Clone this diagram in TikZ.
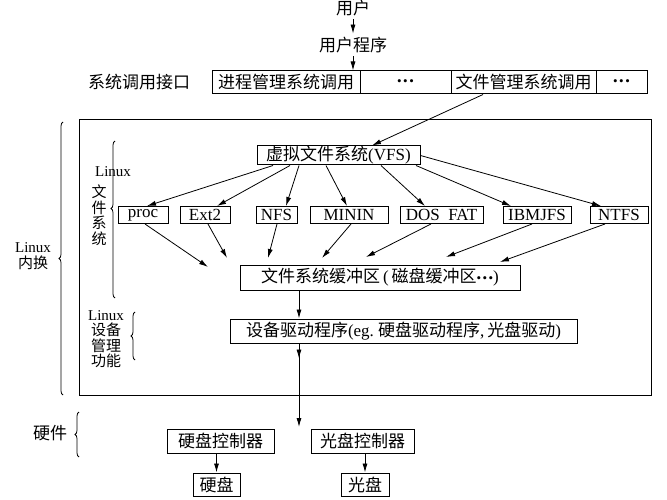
\documentclass[tikz,border=0pt]{standalone}
\usepackage{fontspec}
\setmainfont{Liberation Serif}
\newfontfamily\cjk{Noto Sans CJK SC}
\usetikzlibrary{arrows.meta,decorations.pathreplacing,decorations.markings}
\newcommand{\zh}[1]{{\cjk #1}}
\newcommand{\dotrow}{{\fontsize{13}{13}\selectfont\textbullet\hspace{1.5pt}\textbullet\hspace{1.5pt}\textbullet}}

\begin{document}
\begin{tikzpicture}[x=1pt,y=-1pt,
	font=\fontsize{17}{18}\selectfont,
	box/.style={draw, line width=1pt, inner sep=0pt},
	arr/.style={-{Latex[length=9pt,width=5pt]}, line width=0.8pt},
	lbl/.style={align=center, inner sep=0pt, font=\fontsize{15}{15.5}\selectfont},
	brc/.style={decorate, decoration={brace, amplitude=4pt}, line width=0.8pt}]
				\useasboundingbox (0,0) rectangle (667,500);
				%%%nodes
				%kernel frame
				\node[box, minimum width=572pt, minimum height=275pt] at (365,257.5) (kernel){};
				%user
				\node at (353,8) (user){\zh{用户}};
				\node at (353,45) (uprog){\zh{用户程序}};
				%system call interface
				\node[lbl, font=\fontsize{17}{18}\selectfont] at (139,82) (sclbl){\zh{系统调用接口}};
				\node[box, minimum width=148pt, minimum height=23pt] at (286,82.5) (sc1){\zh{进程管理系统调用}};
				\node[box, minimum width=91pt, minimum height=23pt] at (405.5,82.5) (sc2){\dotrow};
				\node[box, minimum width=145pt, minimum height=23pt] at (523.5,82.5) (sc3){\zh{文件管理系统调用}};
				\node[box, minimum width=51pt, minimum height=23pt] at (621.5,82.5) (sc4){\dotrow};
				%vfs
				\node[box, minimum width=163pt, minimum height=19pt] at (338.5,155.5) (vfs){\zh{虚拟文件系统}(VFS)};
				%file systems
				\node[box, minimum width=50pt, minimum height=17pt] at (143,215) (proc){proc};
				\node[box, minimum width=50pt, minimum height=17pt] at (205,215) (ext2){Ext2};
				\node[box, minimum width=41pt, minimum height=17pt] at (276.5,215) (nfs){NFS};
				\node[box, minimum width=78pt, minimum height=17pt] at (349,215) (minin){MININ};
				\node[box, minimum width=83pt, minimum height=17pt] at (441.5,215) (dosfat){DOS\ \ FAT};
				\node[box, minimum width=68pt, minimum height=17pt] at (537,215) (ibmjfs){IBMJFS};
				\node[box, minimum width=58pt, minimum height=17pt] at (619,215) (ntfs){NTFS};
				%buffer
				\node[box, minimum width=280pt, minimum height=25pt] at (380,277.5) (buf){\zh{文件系统缓冲区}\,(\,\zh{磁盘缓冲区}\dotrow)};
				\coordinate (b1) at (208,267);
				\coordinate (b2) at (227,258);
				\coordinate (b3) at (268,258);
				\coordinate (b4) at (322,258);
				\coordinate (b5) at (366,257);
				\coordinate (b6) at (446,257);
				\coordinate (b7) at (500,262);
				%driver
				\node[box, minimum width=347pt, minimum height=24pt] at (403.5,331) (dev){\zh{设备驱动程序}(eg.\ \zh{硬盘驱动程序},\,\zh{光盘驱动})};
				%hardware
				\coordinate (hw) at (299,427);
				\node[box, minimum width=107pt, minimum height=24pt] at (220.5,441) (hdc){\zh{硬盘控制器}};
				\node[box, minimum width=103pt, minimum height=24pt] at (362.5,441) (odc){\zh{光盘控制器}};
				\node[box, minimum width=47pt, minimum height=23pt] at (216.5,484.5) (hd){\zh{硬盘}};
				\node[box, minimum width=48pt, minimum height=23pt] at (365,484.5) (od){\zh{光盘}};
				%side labels
				\node[lbl] at (33,256) (kernlbl){Linux\\\zh{内换}};
				\node[lbl, fill=white] at (113,172) (fslinux){Linux};
				\node[lbl] at (99,215) (fslbl){\zh{文}\\\zh{件}\\\zh{系}\\\zh{统}};
				\node[lbl] at (106,339) (devlbl){Linux\\\zh{设备}\\\zh{管理}\\\zh{功能}};
				\node[lbl, font=\fontsize{17}{18}\selectfont] at (50,433) (hwlbl){\zh{硬件}};
				%%%braces
				\draw[brc] (63,395) -- (63,122);
				\draw[brc, decoration={aspect=0.57}] (115,298) -- (115,141);
				\draw[brc] (135,360) -- (135,312);
				\draw[brc] (79,457) -- (79,412);
				%%%links
				%top
				\draw[arr] (user) -- (uprog);
				\draw[arr] (uprog) -- (uprog |- sc1.north);
				\draw[arr] ([xshift=-40.5pt]sc3.south) -- ([xshift=33.5pt]vfs.north);
				%vfs to file systems
				\draw[arr] ([xshift=-65.5pt]vfs.south) -- ([xshift=4pt]proc.north);
				\draw[arr] ([xshift=-48.5pt]vfs.south) -- ([xshift=12pt]ext2.north);
				\draw[arr] ([xshift=-39.5pt]vfs.south) -- ([xshift=9.5pt]nfs.north);
				\draw[arr] ([xshift=-12.5pt]vfs.south) -- ([xshift=-2pt]minin.north);
				\draw[arr] ([xshift=42.5pt]vfs.south) -- ([xshift=-16.5pt]dosfat.north);
				\draw[arr] ([xshift=77.5pt]vfs.south) -- ([xshift=-26pt]ibmjfs.north);
				\draw[arr] (vfs.east) -- ([xshift=-18pt]ntfs.north);
				%file systems to buffer
				\draw[arr] ([xshift=2pt]proc.south) -- (b1);
				\draw[arr] ([xshift=3pt]ext2.south) -- (b2);
				\draw[arr] ([xshift=0.5pt]nfs.south) -- (b3);
				\draw[arr] ([xshift=2pt]minin.south) -- (b4);
				\draw[arr] ([xshift=-10.5pt]dosfat.south) -- (b5);
				\draw[arr] ([xshift=-5pt]ibmjfs.south) -- (b6);
				\draw[arr] ([xshift=-14pt]ntfs.south) -- (b7);
				%down to hardware
				\draw[arr] ([xshift=-81pt]buf.south) -- ([xshift=-81pt]buf.south |- dev.north);
				\draw[arr, postaction={decorate}, decoration={markings, mark=at position 0.18 with {\arrow{Latex[length=9pt,width=5pt]}}}] (dev.south -| hw) -- (hw);
				\draw[arr] (hd.north |- hdc.south) -- (hd.north);
				\draw[arr] (od.north |- odc.south) -- (od.north);
\end{tikzpicture}
\end{document}
